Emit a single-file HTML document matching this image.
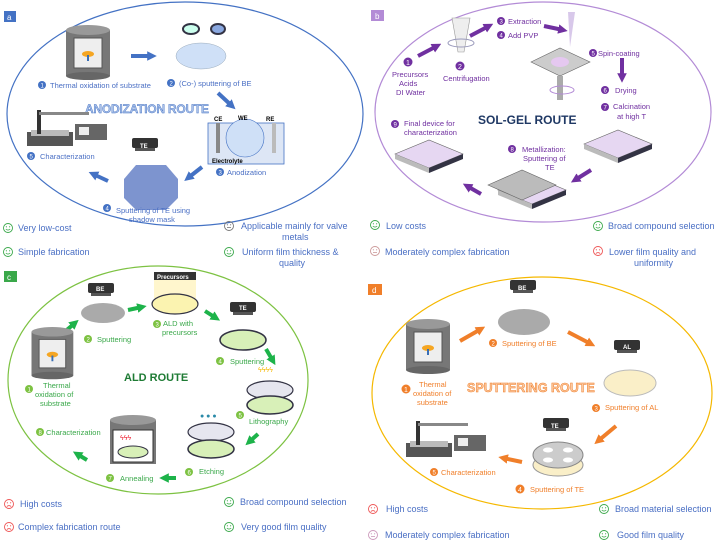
<!DOCTYPE html>
<html><head><meta charset="utf-8"><style>
html,body{margin:0;padding:0;background:#fff;}
svg{display:block;font-family:"Liberation Sans",Arial,sans-serif;}
.a{fill:#4a6fc4;font-size:7.5px}
.b{fill:#7030a0;font-size:7.5px}
.c{fill:#3aa84a;font-size:7.5px}
.d{fill:#f07f2a;font-size:7.5px}
.p{fill:#4a6fc4;font-size:9px}
</style></head><body>
<svg width="720" height="542" viewBox="0 0 720 542" xmlns="http://www.w3.org/2000/svg">
<defs>
<marker id="ma" viewBox="0 0 10 10" refX="5" refY="5" markerWidth="2.4" markerHeight="2.6" orient="auto"><path d="M0,0L10,5L0,10z" fill="#4472c4"/></marker>
<marker id="mb" viewBox="0 0 10 10" refX="5" refY="5" markerWidth="2.4" markerHeight="2.6" orient="auto"><path d="M0,0L10,5L0,10z" fill="#7030a0"/></marker>
<marker id="mc" viewBox="0 0 10 10" refX="5" refY="5" markerWidth="2.4" markerHeight="2.6" orient="auto"><path d="M0,0L10,5L0,10z" fill="#1db34a"/></marker>
<marker id="md" viewBox="0 0 10 10" refX="5" refY="5" markerWidth="2.4" markerHeight="2.6" orient="auto"><path d="M0,0L10,5L0,10z" fill="#f07f2a"/></marker>
<g id="furn"><rect x="0" y="6" width="44" height="46" fill="#777"/><ellipse cx="22" cy="6" rx="22" ry="5" fill="#999"/><ellipse cx="22" cy="52" rx="22" ry="4" fill="#666"/><rect x="8" y="14" width="28" height="30" fill="#eee" stroke="#555"/><ellipse cx="22" cy="30" rx="6" ry="3" fill="#f5a623"/><rect x="21" y="31" width="2" height="6" fill="#3a6fb5"/></g>
<g id="inst"><rect x="0" y="22" width="46" height="14" fill="#555"/><rect x="4" y="20" width="38" height="6" fill="#bbb"/><rect x="10" y="0" width="4" height="24" fill="#333"/><rect x="12" y="2" width="50" height="3" fill="#888"/><rect x="48" y="14" width="32" height="16" fill="#666"/><rect x="52" y="17" width="10" height="8" fill="#eee"/></g>
<g id="cap"><rect x="0" y="0" width="26" height="10" rx="2" fill="#333"/><rect x="3" y="10" width="20" height="3" fill="#555"/></g>
<g id="dev"><path d="M0,14L34,0L68,14L34,28z" fill="#e6d7f2" stroke="#666" stroke-width=".6"/><path d="M0,14L34,28L34,33L0,19z" fill="#bbb"/><path d="M68,14L34,28L34,33L68,19z" fill="#334"/></g>
<g id="sm"><circle r="4.5" fill="none" stroke="currentColor" stroke-width=".9"/><circle cx="-1.6" cy="-1.2" r=".6" fill="currentColor"/><circle cx="1.6" cy="-1.2" r=".6" fill="currentColor"/><path d="M-2.2,1Q0,3.2 2.2,1" fill="none" stroke="currentColor" stroke-width=".8"/></g>
<g id="fr"><circle r="4.5" fill="none" stroke="currentColor" stroke-width=".9"/><circle cx="-1.6" cy="-1.2" r=".6" fill="currentColor"/><circle cx="1.6" cy="-1.2" r=".6" fill="currentColor"/><path d="M-2.2,2.6Q0,0.6 2.2,2.6" fill="none" stroke="currentColor" stroke-width=".8"/></g>
<g id="ne"><circle r="4.5" fill="none" stroke="currentColor" stroke-width=".9"/><circle cx="-1.6" cy="-1.2" r=".6" fill="currentColor"/><circle cx="1.6" cy="-1.2" r=".6" fill="currentColor"/><path d="M-2,1.6H2" fill="none" stroke="currentColor" stroke-width=".8"/></g>
</defs>

<!-- PANEL A -->
<ellipse cx="185" cy="114" rx="178" ry="112" fill="none" stroke="#4472c4" stroke-width="1.2"/>
<rect x="4" y="11" width="12" height="11" fill="#4472c4"/><text x="7" y="20" fill="#fff" font-size="8">a</text>
<use href="#furn" x="66" y="24"/>
<line x1="131" y1="56" x2="152" y2="56" stroke="#4472c4" stroke-width="4" marker-end="url(#ma)"/>
<ellipse cx="191" cy="29" rx="8" ry="5" fill="#cfe" stroke="#334" stroke-width="2"/><ellipse cx="218" cy="29" rx="7" ry="5" fill="#8aa8e0" stroke="#334" stroke-width="2"/>
<ellipse cx="201" cy="56" rx="25" ry="13" fill="#cfe0f7" stroke="#9ab" stroke-width=".5"/>
<circle cx="42" cy="85" r="4" fill="#4472c4"/><text x="40.5" y="87.5" fill="#fff" font-size="6">1</text><text x="50" y="88" class="a">Thermal oxidation of substrate</text>
<circle cx="171" cy="83" r="4" fill="#4472c4"/><text x="169.5" y="85.5" fill="#fff" font-size="6">2</text><text x="179" y="86" class="a">(Co-) sputtering of BE</text>
<line x1="218" y1="93" x2="232" y2="106" stroke="#4472c4" stroke-width="4" marker-end="url(#ma)"/>
<text x="85" y="113" font-size="12" font-weight="bold" fill="#a9c0e8" stroke="#4472c4" stroke-width=".4" textLength="124">ANODIZATION ROUTE</text>
<rect x="208" y="123" width="76" height="41" fill="#dde6f5" stroke="#4472c4" stroke-width=".8"/>
<rect x="216" y="123" width="4" height="30" fill="#888"/><rect x="272" y="123" width="4" height="30" fill="#bbb"/>
<circle cx="245" cy="138" r="19" fill="#cfe0f7" stroke="#4472c4" stroke-width=".6"/>
<text x="214" y="121" font-size="6" font-weight="bold">CE</text><text x="238" y="120" font-size="6" font-weight="bold">WE</text><text x="266" y="121" font-size="6" font-weight="bold">RE</text>
<text x="212" y="163" font-size="6" font-weight="bold">Electrolyte</text>
<circle cx="220" cy="172" r="4" fill="#4472c4"/><text x="218.5" y="174.5" fill="#fff" font-size="6">3</text><text x="227" y="175" class="a">Anodization</text>
<line x1="202" y1="167" x2="188" y2="178" stroke="#4472c4" stroke-width="4" marker-end="url(#ma)"/>
<use href="#cap" x="132" y="138"/><text x="140" y="148" fill="#fff" font-size="6" font-weight="bold">TE</text>
<path d="M136,165L166,165L178,179L178,198L166,210L136,210L124,198L124,179z" fill="#7d94cf"/>
<circle cx="107" cy="208" r="4" fill="#4472c4"/><text x="105.5" y="210.5" fill="#fff" font-size="6">4</text><text x="116" y="213" class="a">Sputtering of TE using</text><text x="129" y="222" class="a">shadow mask</text>
<line x1="108" y1="181" x2="93" y2="174" stroke="#4472c4" stroke-width="4" marker-end="url(#ma)"/>
<use href="#inst" x="27" y="110"/>
<circle cx="31" cy="156" r="4" fill="#4472c4"/><text x="29.5" y="158.5" fill="#fff" font-size="6">5</text><text x="40" y="159" class="a">Characterization</text>
<use href="#sm" x="8" y="228" color="#3aa84a"/><text x="18" y="231" class="p">Very low-cost</text>
<use href="#sm" x="8" y="252" color="#3aa84a"/><text x="18" y="255" class="p">Simple fabrication</text>
<use href="#ne" x="229" y="226" color="#777"/><text x="241" y="229" class="p">Applicable mainly for valve</text><text x="282" y="240" class="p">metals</text>
<use href="#sm" x="229" y="252" color="#3aa84a"/><text x="242" y="255" class="p">Uniform film thickness &amp;</text><text x="279" y="266" class="p">quality</text>

<!-- PANEL B -->
<ellipse cx="543" cy="112" rx="168" ry="110" fill="none" stroke="#b38bd6" stroke-width="1.2"/>
<rect x="371" y="10" width="13" height="11" fill="#b38bd6"/><text x="375" y="19" fill="#fff" font-size="8">b</text>
<line x1="418" y1="56" x2="437" y2="46" stroke="#7030a0" stroke-width="4" marker-end="url(#mb)"/>
<path d="M452,18L470,18L464,52L458,52z" fill="#eee" stroke="#999" stroke-width=".6"/><ellipse cx="461" cy="43" rx="13" ry="4" fill="none" stroke="#99b" stroke-width="1"/>
<line x1="470" y1="36" x2="489" y2="26" stroke="#7030a0" stroke-width="4" marker-end="url(#mb)"/>
<circle cx="408" cy="62" r="4.5" fill="#7030a0"/><text x="406" y="65" fill="#fff" font-size="7">1</text>
<text x="392" y="77" class="b">Precursors</text><text x="399" y="86" class="b">Acids</text><text x="396" y="95" class="b">DI Water</text>
<circle cx="460" cy="66" r="4.5" fill="#7030a0"/><text x="458" y="69" fill="#fff" font-size="7">2</text><text x="443" y="81" class="b">Centrifugation</text>
<circle cx="501" cy="21" r="4" fill="#7030a0"/><text x="499.5" y="23.5" fill="#fff" font-size="6">3</text><text x="508" y="24" class="b">Extraction</text>
<circle cx="501" cy="35" r="4" fill="#7030a0"/><text x="499.5" y="37.5" fill="#fff" font-size="6">4</text><text x="508" y="38" class="b">Add PVP</text>
<line x1="544" y1="26" x2="563" y2="30" stroke="#7030a0" stroke-width="4" marker-end="url(#mb)"/>
<path d="M568,12L575,12L570,47z" fill="#d8c8ea"/>
<path d="M531,62L560,48L590,62L560,76z" fill="#ccc" stroke="#666" stroke-width=".6"/><ellipse cx="560" cy="62" rx="9" ry="5" fill="#e5c8f0"/><rect x="557" y="76" width="6" height="24" fill="#aaa"/><ellipse cx="562" cy="90" rx="12" ry="4" fill="none" stroke="#b38bd6"/>
<circle cx="593" cy="53" r="4" fill="#7030a0"/><text x="591.5" y="55.5" fill="#fff" font-size="6">5</text><text x="598" y="56" class="b">Spin-coating</text>
<line x1="622" y1="58" x2="622" y2="78" stroke="#7030a0" stroke-width="4" marker-end="url(#mb)"/>
<circle cx="605" cy="90" r="4" fill="#7030a0"/><text x="603.5" y="92.5" fill="#fff" font-size="6">6</text><text x="615" y="93" class="b">Drying</text>
<circle cx="605" cy="107" r="4" fill="#7030a0"/><text x="603.5" y="109.5" fill="#fff" font-size="6">7</text><text x="613" y="109" class="b">Calcination</text><text x="617" y="119" class="b">at high T</text>
<text x="478" y="124" font-size="12" font-weight="bold" fill="#1f3864">SOL-GEL ROUTE</text>
<circle cx="395" cy="124" r="4" fill="#7030a0"/><text x="393.5" y="126.5" fill="#fff" font-size="6">9</text><text x="404" y="126" class="b">Final device for</text><text x="404" y="135" class="b">characterization</text>
<circle cx="512" cy="149" r="4" fill="#7030a0"/><text x="510.5" y="151.5" fill="#fff" font-size="6">8</text><text x="522" y="152" class="b">Metallization:</text><text x="523" y="161" class="b">Sputtering of</text><text x="545" y="170" class="b">TE</text>
<use href="#dev" x="395" y="140"/><use href="#dev" x="498" y="176"/><path d="M488,185L522,170L556,185L522,200z" fill="#bbb" stroke="#666" stroke-width=".6"/><use href="#dev" x="584" y="130"/>
<line x1="591" y1="170" x2="575" y2="180" stroke="#7030a0" stroke-width="4" marker-end="url(#mb)"/>
<line x1="481" y1="194" x2="467" y2="186" stroke="#7030a0" stroke-width="4" marker-end="url(#mb)"/>
<use href="#sm" x="375" y="225" color="#3aa84a"/><text x="386" y="229" class="p">Low costs</text>
<use href="#ne" x="375" y="251" color="#c99"/><text x="385" y="255" class="p">Moderately complex fabrication</text>
<use href="#sm" x="598" y="226" color="#3aa84a"/><text x="608" y="229" class="p">Broad compound selection</text>
<use href="#fr" x="598" y="251" color="#e55"/><text x="609" y="255" class="p">Lower film quality and</text><text x="634" y="266" class="p">uniformity</text>

<!-- PANEL C -->
<ellipse cx="158" cy="380" rx="150" ry="114" fill="none" stroke="#7dc242" stroke-width="1.2"/>
<rect x="4" y="271" width="13" height="11" fill="#3aa84a"/><text x="7" y="280" fill="#fff" font-size="8">c</text>
<use href="#cap" x="88" y="283"/><text x="96" y="291" fill="#fff" font-size="6" font-weight="bold">BE</text>
<ellipse cx="103" cy="313" rx="22" ry="10" fill="#aaa"/>
<rect x="154" y="280" width="42" height="20" fill="#fff4c0" opacity=".8"/><rect x="154" y="272" width="42" height="8" fill="#333"/><text x="157" y="279" fill="#fff" font-size="6" font-weight="bold">Precursors</text>
<ellipse cx="175" cy="304" rx="23" ry="10" fill="#fbf3b0" stroke="#334" stroke-width="1.2"/>
<use href="#cap" x="230" y="302"/><text x="239" y="310" fill="#fff" font-size="6" font-weight="bold">TE</text>
<ellipse cx="243" cy="340" rx="23" ry="10" fill="#d8f0b8" stroke="#334" stroke-width="1.5"/>
<line x1="62" y1="334" x2="75" y2="323" stroke="#1db34a" stroke-width="4" marker-end="url(#mc)"/>
<line x1="128" y1="310" x2="142" y2="307" stroke="#1db34a" stroke-width="4" marker-end="url(#mc)"/>
<line x1="205" y1="311" x2="216" y2="318" stroke="#1db34a" stroke-width="4" marker-end="url(#mc)"/>
<line x1="266" y1="349" x2="273" y2="361" stroke="#1db34a" stroke-width="4" marker-end="url(#mc)"/>
<line x1="258" y1="434" x2="249" y2="442" stroke="#1db34a" stroke-width="4" marker-end="url(#mc)"/>
<line x1="176" y1="478" x2="164" y2="478" stroke="#1db34a" stroke-width="4" marker-end="url(#mc)"/>
<line x1="87" y1="460" x2="77" y2="454" stroke="#1db34a" stroke-width="4" marker-end="url(#mc)"/>
<circle cx="88" cy="339" r="4" fill="#7dc242"/><text x="86.5" y="341.5" fill="#fff" font-size="6">2</text><text x="97" y="342" class="c">Sputtering</text>
<circle cx="157" cy="324" r="4" fill="#7dc242"/><text x="155.5" y="326.5" fill="#fff" font-size="6">3</text><text x="163" y="326" class="c">ALD with</text><text x="162" y="335" class="c">precursors</text>
<circle cx="220" cy="361" r="4" fill="#7dc242"/><text x="218.5" y="363.5" fill="#fff" font-size="6">4</text><text x="230" y="364" class="c">Sputtering</text>
<text x="124" y="381" font-size="11" font-weight="bold" fill="#1e7b34">ALD ROUTE</text>
<use href="#furn" x="30" y="338" transform="translate(3,5) scale(.95)"/>
<circle cx="29" cy="389" r="4" fill="#7dc242"/><text x="27.5" y="391.5" fill="#fff" font-size="6">1</text><text x="43" y="388" class="c">Thermal</text><text x="35" y="397" class="c">oxidation of</text><text x="40" y="406" class="c">substrate</text>
<ellipse cx="270" cy="390" rx="23" ry="9" fill="#e6e6ef" stroke="#334" stroke-width="1.2"/><ellipse cx="270" cy="405" rx="23" ry="9" fill="#d8f0b8" stroke="#334" stroke-width="1.5"/>
<text x="258" y="372" fill="#f5b800" font-size="7">ϟϟϟϟ</text>
<circle cx="240" cy="415" r="4" fill="#7dc242"/><text x="238.5" y="417.5" fill="#fff" font-size="6">5</text><text x="249" y="424" class="c">Lithography</text>
<ellipse cx="211" cy="432" rx="23" ry="9" fill="#e6e6ef" stroke="#334" stroke-width="1.2"/><ellipse cx="211" cy="449" rx="23" ry="9" fill="#d8f0b8" stroke="#334" stroke-width="1.5"/>
<text x="200" y="418" fill="#2a8aa8" font-size="7">● ● ●</text>
<circle cx="189" cy="472" r="4" fill="#7dc242"/><text x="187.5" y="474.5" fill="#fff" font-size="6">6</text><text x="199" y="474" class="c">Etching</text>
<rect x="110" y="420" width="46" height="44" fill="#777"/><ellipse cx="133" cy="420" rx="23" ry="5" fill="#999"/><rect x="113" y="430" width="40" height="32" fill="#fff" stroke="#333"/><ellipse cx="133" cy="452" rx="15" ry="6" fill="#d8f0b8" stroke="#334"/><text x="120" y="440" fill="#e23" font-size="7">ϟϟϟ</text>
<circle cx="110" cy="478" r="4" fill="#7dc242"/><text x="108.5" y="480.5" fill="#fff" font-size="6">7</text><text x="120" y="481" class="c">Annealing</text>
<circle cx="40" cy="432" r="4" fill="#7dc242"/><text x="38.5" y="434.5" fill="#fff" font-size="6">8</text><text x="46" y="435" class="c">Characterization</text>
<use href="#fr" x="9" y="504" color="#e55"/><text x="20" y="507" class="p">High costs</text>
<use href="#fr" x="9" y="527" color="#e55"/><text x="18" y="530" class="p">Complex fabrication route</text>
<use href="#sm" x="229" y="502" color="#3aa84a"/><text x="240" y="505" class="p">Broad compound selection</text>
<use href="#sm" x="229" y="527" color="#3aa84a"/><text x="241" y="530" class="p">Very good film quality</text>

<!-- PANEL D -->
<ellipse cx="542" cy="393" rx="170" ry="116" fill="none" stroke="#f5b800" stroke-width="1.2"/>
<rect x="368" y="284" width="14" height="11" fill="#f07f2a"/><text x="372" y="293" fill="#fff" font-size="8">d</text>
<use href="#furn" x="406" y="318"/>
<circle cx="406" cy="389" r="4.5" fill="#f07f2a"/><text x="404" y="392" fill="#fff" font-size="7">1</text><text x="419" y="387" class="d">Thermal</text><text x="413" y="396" class="d">oxidation of</text><text x="417" y="405" class="d">substrate</text>
<use href="#cap" x="510" y="280"/><text x="518" y="290" fill="#fff" font-size="6" font-weight="bold">BE</text>
<ellipse cx="524" cy="322" rx="26" ry="13" fill="#aaa"/>
<line x1="460" y1="341" x2="481" y2="329" stroke="#f07f2a" stroke-width="4" marker-end="url(#md)"/>
<circle cx="493" cy="343" r="4" fill="#f07f2a"/><text x="491.5" y="345.5" fill="#fff" font-size="6">2</text><text x="502" y="346" class="d">Sputtering of BE</text>
<line x1="568" y1="332" x2="591" y2="344" stroke="#f07f2a" stroke-width="4" marker-end="url(#md)"/>
<use href="#cap" x="614" y="340"/><text x="623" y="349" fill="#fff" font-size="6" font-weight="bold">AL</text>
<ellipse cx="630" cy="383" rx="26" ry="13" fill="#faefc8" stroke="#bbb"/>
<circle cx="596" cy="408" r="4" fill="#f07f2a"/><text x="594.5" y="410.5" fill="#fff" font-size="6">3</text><text x="605" y="410" class="d">Sputtering of AL</text>
<text x="467" y="392" font-size="12.5" font-weight="bold" fill="#fbc8a0" stroke="#f07f2a" stroke-width=".5">SPUTTERING ROUTE</text>
<line x1="616" y1="426" x2="598" y2="441" stroke="#f07f2a" stroke-width="4" marker-end="url(#md)"/>
<use href="#cap" x="543" y="418"/><text x="551" y="428" fill="#fff" font-size="6" font-weight="bold">TE</text>
<ellipse cx="558" cy="465" rx="25" ry="11" fill="#faefc8" stroke="#999"/><ellipse cx="558" cy="455" rx="25" ry="13" fill="#ccc" stroke="#888"/>
<ellipse cx="548" cy="450" rx="5" ry="2.5" fill="#fff"/><ellipse cx="568" cy="450" rx="5" ry="2.5" fill="#fff"/><ellipse cx="548" cy="460" rx="5" ry="2.5" fill="#fff"/><ellipse cx="568" cy="460" rx="5" ry="2.5" fill="#fff"/>
<circle cx="520" cy="489" r="4.5" fill="#f07f2a"/><text x="518" y="492" fill="#fff" font-size="7">4</text><text x="530" y="492" class="d">Sputtering of TE</text>
<line x1="522" y1="462" x2="503" y2="458" stroke="#f07f2a" stroke-width="4" marker-end="url(#md)"/>
<use href="#inst" x="406" y="421"/>
<circle cx="434" cy="472" r="4" fill="#f07f2a"/><text x="432.5" y="474.5" fill="#fff" font-size="6">5</text><text x="441" y="475" class="d">Characterization</text>
<use href="#fr" x="373" y="509" color="#e55"/><text x="386" y="512" class="p">High costs</text>
<use href="#ne" x="373" y="535" color="#c9b"/><text x="385" y="538" class="p">Moderately complex fabrication</text>
<use href="#sm" x="604" y="509" color="#3aa84a"/><text x="615" y="512" class="p">Broad material selection</text>
<use href="#sm" x="604" y="535" color="#3aa84a"/><text x="617" y="538" class="p">Good film quality</text>
</svg>
</body></html>
